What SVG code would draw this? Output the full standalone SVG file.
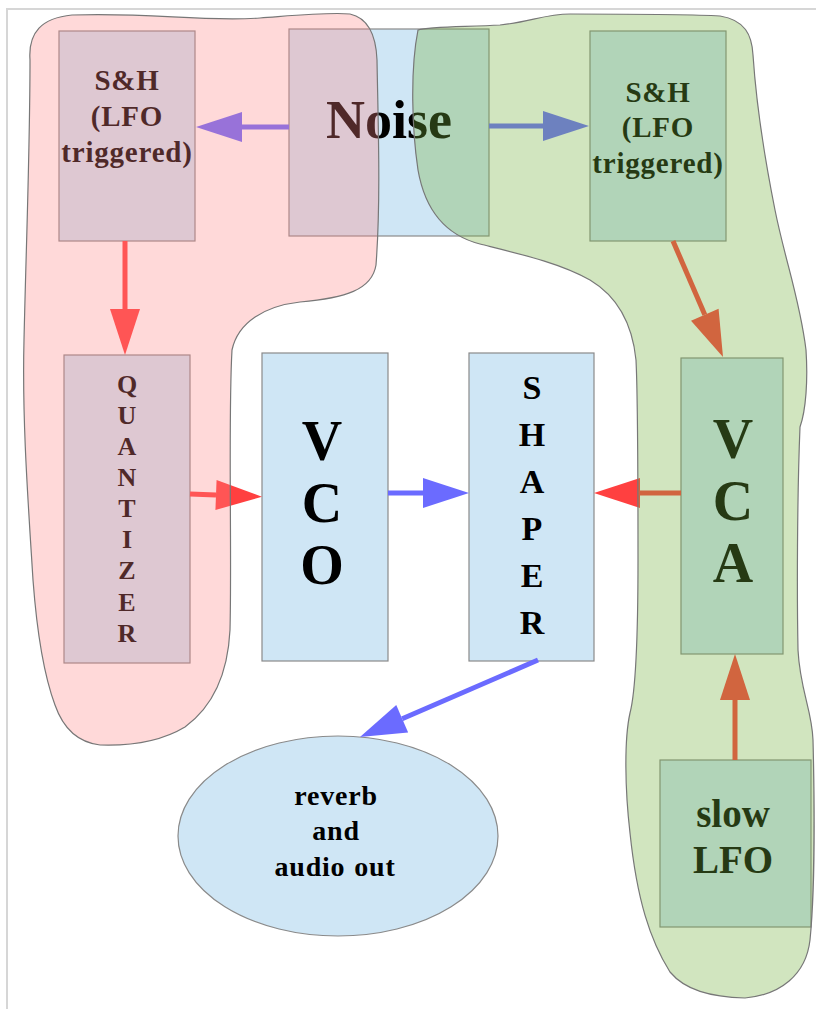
<svg xmlns="http://www.w3.org/2000/svg" width="816" height="1009" viewBox="0 0 816 1009">
<style>
.node{fill:#cfe6f5;stroke:#8a8a8a;stroke-width:1.2}
.t{font-family:"Liberation Serif","Times New Roman",serif;font-weight:bold;fill:#000;text-anchor:middle}
.blue{stroke:#6b6bff;stroke-width:5;fill:none}
.red{stroke:#ff4040;stroke-width:5;fill:none}
.blob{stroke:#777;stroke-width:1.2}
</style>
<defs>
<marker id="hb" markerUnits="userSpaceOnUse" markerWidth="46" markerHeight="30" refX="0" refY="15" orient="auto" overflow="visible"><path d="M0,0 L46,15 L0,30 Z" fill="#6b6bff"/></marker>
<marker id="hr" markerUnits="userSpaceOnUse" markerWidth="46" markerHeight="30" refX="0" refY="15" orient="auto" overflow="visible"><path d="M0,0 L46,15 L0,30 Z" fill="#ff4040"/></marker>
</defs>
<rect width="816" height="1009" fill="#fff"/>
<path d="M7,1009 V9 H816" fill="none" stroke="#d6d6d6" stroke-width="2"/>

<g id="sh-left"><rect class="node" x="59" y="31" width="136" height="210"/>
<text class="t" font-size="29" letter-spacing="0.8"><tspan x="127" y="90">S&amp;H</tspan><tspan x="127" y="126">(LFO</tspan><tspan x="127" y="162">triggered)</tspan></text></g>
<g id="noise"><rect class="node" x="289" y="29" width="200" height="207"/>
<text class="t" font-size="54" x="389" y="138">Noise</text></g>
<g id="sh-right"><rect class="node" x="590" y="31" width="136" height="210"/>
<text class="t" font-size="29" letter-spacing="0.8"><tspan x="658" y="102">S&amp;H</tspan><tspan x="658" y="137">(LFO</tspan><tspan x="658" y="173">triggered)</tspan></text></g>
<g id="quantizer"><rect class="node" x="64" y="355" width="126" height="308"/>
<text class="t" font-size="26"><tspan x="127" y="393">Q</tspan><tspan x="127" y="424">U</tspan><tspan x="127" y="455">A</tspan><tspan x="127" y="486">N</tspan><tspan x="127" y="517">T</tspan><tspan x="127" y="548">I</tspan><tspan x="127" y="579">Z</tspan><tspan x="127" y="611">E</tspan><tspan x="127" y="642">R</tspan></text></g>
<g id="vco"><rect class="node" x="262" y="353" width="126" height="308"/>
<text class="t" font-size="56"><tspan x="322" y="460">V</tspan><tspan x="322" y="522">C</tspan><tspan x="322" y="584">O</tspan></text></g>
<g id="shaper"><rect class="node" x="469" y="353" width="125" height="308"/>
<text class="t" font-size="34"><tspan x="532" y="399">S</tspan><tspan x="532" y="446">H</tspan><tspan x="532" y="493">A</tspan><tspan x="532" y="540">P</tspan><tspan x="532" y="587">E</tspan><tspan x="532" y="634">R</tspan></text></g>
<g id="vca"><rect class="node" x="681" y="358" width="102" height="296"/>
<text class="t" font-size="56"><tspan x="733" y="458">V</tspan><tspan x="733" y="520">C</tspan><tspan x="733" y="582">A</tspan></text></g>
<g id="slow-lfo"><rect class="node" x="660" y="760" width="151" height="167"/>
<text class="t" font-size="39"><tspan x="733" y="827">slow</tspan><tspan x="733" y="873">LFO</tspan></text></g>
<g id="reverb"><ellipse class="node" cx="338" cy="836" rx="160" ry="100"/>
<text class="t" font-size="28" letter-spacing="0.8" word-spacing="1"><tspan x="336" y="805">reverb</tspan><tspan x="336" y="840">and</tspan><tspan x="335" y="876">audio out</tspan></text></g>

<g id="connectors">
<line class="blue" x1="289" y1="127" x2="242" y2="127" marker-end="url(#hb)"/>
<line class="blue" x1="489" y1="126" x2="543" y2="126" marker-end="url(#hb)"/>
<line class="red" x1="125" y1="241" x2="125" y2="309" marker-end="url(#hr)"/>
<line class="red" x1="673" y1="241" x2="704.8" y2="314.8" marker-end="url(#hr)"/>
<line class="red" x1="190" y1="494" x2="216" y2="495" marker-end="url(#hr)"/>
<line class="blue" x1="388" y1="493" x2="423" y2="493" marker-end="url(#hb)"/>
<line class="red" x1="681" y1="493" x2="640" y2="493" marker-end="url(#hr)"/>
<line class="red" x1="735" y1="760" x2="735" y2="700" marker-end="url(#hr)"/>
<line class="blue" x1="538" y1="660" x2="402.2" y2="718.7" marker-end="url(#hb)"/>
</g>

<g id="group-pink"><path class="blob" fill="rgb(255,132,132)" fill-opacity="0.31" d="M30,60 C28,32 42,18 72,15 C150,12 200,22 260,18 C300,15 330,12 350,14 C368,18 376,35 377,60 C378,120 381,200 376,265 C372,290 345,298 300,302 C265,306 238,322 232,350 C228,420 232,550 230,630 C228,670 215,705 185,727 C160,742 130,746 100,745 C75,742 62,725 55,705 C42,670 36,620 33,580 C28,500 22,420 24,340 C26,250 30,150 30,60 Z"/></g>
<g id="group-green"><path class="blob" fill="rgb(114,175,60)" fill-opacity="0.33" d="M418,30 C430,26 470,27 500,25 C530,22 545,14 570,14 C620,14 690,14 720,16 C745,20 752,35 753,55 C756,100 765,160 775,210 C785,260 800,300 806,350 C808,380 806,410 800,427 C797,500 797,600 798,650 C800,690 812,710 813,740 C815,820 814,900 810,940 C806,975 780,995 745,998 C710,997 685,990 670,972 C650,940 637,900 630,833 C625,790 624,740 630,713 C636,690 638,640 638,560 C638,480 638,400 636,360 C632,320 615,295 590,280 C560,263 520,254 480,244 C445,235 425,210 418,170 C412,130 410,70 418,30 Z"/></g>
</svg>
